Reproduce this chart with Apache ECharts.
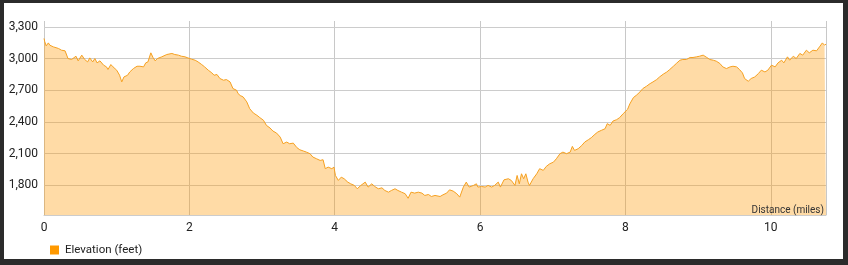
<!DOCTYPE html>
<html>
<head>
<meta charset="utf-8">
<script src="https://cdn.jsdelivr.net/npm/echarts@6/dist/echarts.min.js"></script>
<style>
  html, body { margin: 0; padding: 0; background: #2b2b2b; width: 848px; height: 265px; overflow: hidden; }
  #panel { position: absolute; left: 4px; top: 3px; width: 839px; height: 256px; background: #ffffff; }
  #chart { position: absolute; left: 0; top: 0; width: 848px; height: 265px; }
</style>
</head>
<body>
<div id="panel"></div>
<div id="chart"></div>
<script>
// Distance along the trail (miles)
const distance = [
  0.00, 0.01, 0.03, 0.06, 0.08, 0.13, 0.20, 0.24, 0.29, 0.31, 0.33, 0.38, 0.40, 0.44, 0.47, 0.52,
  0.56, 0.60, 0.63, 0.67, 0.70, 0.73, 0.77, 0.82, 0.86, 0.88, 0.92, 0.95, 1.00, 1.04, 1.07, 1.10,
  1.15, 1.18, 1.23, 1.28, 1.32, 1.37, 1.40, 1.43, 1.47, 1.50, 1.53, 1.56, 1.62, 1.69, 1.76, 1.80,
  1.85, 1.89, 1.94, 1.98, 2.03, 2.08, 2.12, 2.17, 2.21, 2.26, 2.31, 2.34, 2.38, 2.42, 2.47, 2.51,
  2.56, 2.60, 2.65, 2.67, 2.70, 2.74, 2.79, 2.83, 2.88, 2.93, 2.97, 3.02, 3.06, 3.11, 3.15, 3.20,
  3.25, 3.29, 3.34, 3.38, 3.43, 3.48, 3.52, 3.57, 3.61, 3.66, 3.70, 3.75, 3.80, 3.84, 3.87, 3.91,
  3.96, 3.99, 4.01, 4.05, 4.09, 4.13, 4.18, 4.22, 4.27, 4.31, 4.36, 4.42, 4.46, 4.51, 4.55, 4.60,
  4.65, 4.69, 4.74, 4.78, 4.83, 4.87, 4.92, 4.97, 5.01, 5.05, 5.10, 5.15, 5.20, 5.24, 5.29, 5.33,
  5.38, 5.40, 5.45, 5.49, 5.54, 5.58, 5.63, 5.68, 5.72, 5.77, 5.81, 5.85, 5.91, 5.95, 5.97, 6.02,
  6.07, 6.11, 6.16, 6.20, 6.25, 6.28, 6.33, 6.39, 6.43, 6.48, 6.51, 6.54, 6.57, 6.60, 6.63, 6.66,
  6.68, 6.73, 6.78, 6.82, 6.87, 6.91, 6.96, 7.01, 7.05, 7.10, 7.14, 7.19, 7.24, 7.27, 7.30, 7.35,
  7.40, 7.44, 7.49, 7.53, 7.58, 7.62, 7.67, 7.72, 7.75, 7.79, 7.83, 7.88, 7.92, 7.97, 8.03, 8.06,
  8.11, 8.15, 8.20, 8.24, 8.29, 8.34, 8.38, 8.43, 8.47, 8.52, 8.57, 8.61, 8.66, 8.70, 8.75, 8.79,
  8.84, 8.89, 8.93, 8.98, 9.02, 9.07, 9.12, 9.16, 9.21, 9.25, 9.30, 9.34, 9.39, 9.44, 9.48, 9.53,
  9.57, 9.61, 9.64, 9.69, 9.73, 9.78, 9.83, 9.87, 9.92, 9.96, 10.01, 10.06, 10.10, 10.15, 10.18, 10.23,
  10.26, 10.31, 10.35, 10.40, 10.44, 10.49, 10.53, 10.58, 10.63, 10.67, 10.71, 10.74, 10.76
];
// Elevation (feet)
const elevation = [
  3190, 3160, 3120, 3148, 3126, 3110, 3095, 3079, 3073, 3063, 3000, 2991, 2978, 3022, 2978, 3032,
  2991, 2968, 3006, 2968, 3000, 2959, 2978, 2937, 2921, 2896, 2943, 2921, 2890, 2842, 2779, 2826,
  2842, 2873, 2905, 2927, 2927, 2921, 2959, 2968, 3054, 3010, 2978, 3000, 3016, 3038, 3048, 3038,
  3032, 3022, 3016, 3006, 2994, 2984, 2968, 2943, 2921, 2890, 2864, 2842, 2849, 2811, 2795, 2801,
  2779, 2716, 2700, 2669, 2650, 2637, 2590, 2526, 2485, 2463, 2441, 2416, 2368, 2343, 2314, 2295,
  2257, 2194, 2210, 2194, 2200, 2157, 2137, 2125, 2115, 2100, 2068, 2052, 2036, 2043, 1958, 1973,
  1958, 1973, 1894, 1847, 1878, 1863, 1831, 1815, 1800, 1768, 1800, 1831, 1784, 1815, 1790, 1768,
  1777, 1752, 1736, 1752, 1768, 1752, 1736, 1721, 1678, 1736, 1727, 1736, 1727, 1705, 1714, 1695,
  1705, 1705, 1695, 1711, 1727, 1758, 1746, 1721, 1689, 1784, 1831, 1784, 1800, 1815, 1784, 1790,
  1784, 1800, 1784, 1800, 1831, 1784, 1853, 1863, 1847, 1800, 1894, 1815, 1910, 1863, 1910, 1831,
  1800, 1863, 1910, 1958, 1942, 1979, 2005, 2020, 2052, 2100, 2115, 2100, 2115, 2169, 2131, 2147,
  2178, 2210, 2232, 2251, 2283, 2305, 2321, 2336, 2384, 2368, 2409, 2422, 2441, 2479, 2520, 2570,
  2631, 2652, 2684, 2716, 2738, 2763, 2779, 2801, 2826, 2852, 2873, 2896, 2927, 2953, 2984, 2991,
  2991, 3010, 3010, 3016, 3022, 3032, 3010, 2991, 2984, 2975, 2953, 2921, 2905, 2921, 2927, 2921,
  2896, 2864, 2811, 2785, 2811, 2826, 2858, 2890, 2873, 2890, 2937, 2921, 2959, 2984, 2959, 3016,
  2984, 3022, 3000, 3048, 3032, 3079, 3054, 3079, 3073, 3110, 3148, 3126, 3136
];
// Tick labels
const yTicks = [1800, 2100, 2400, 2700, 3000, 3300];
const xTicks = [0, 2, 4, 6, 8, 10];
const seriesName = 'Elevation (feet)';
const xTitle = 'Distance (miles)';

const pairs = distance.map((d, i) => [d, elevation[i]]);
const FONT = 'Roboto, "Noto Sans", sans-serif';

const chart = echarts.init(document.getElementById('chart'), null, { renderer: 'canvas' });
chart.setOption({
  animation: false,
  backgroundColor: 'transparent',
  grid: { left: 44, right: 22, top: 21, bottom: 50, containLabel: false },
  legend: {
    data: [seriesName],
    left: 50, top: 244, padding: 0,
    itemWidth: 9, itemHeight: 9, icon: 'rect',
    textStyle: { fontFamily: FONT, fontSize: 11.5, color: '#222', padding: [0, 0, 0, 1] }
  },
  xAxis: {
    type: 'value', min: 0, max: 10.76, interval: 2,
    axisLine: { show: true, lineStyle: { color: '#cccccc', width: 1 } },
    axisTick: { show: false },
    splitLine: { show: true, lineStyle: { color: '#c8c8c8', width: 1 } },
    axisLabel: {
      fontFamily: FONT, fontSize: 12, color: '#222', margin: 7,
      showMaxLabel: false,
      formatter: v => (xTicks.indexOf(v) >= 0 ? String(v) : '')
    }
  },
  yAxis: {
    type: 'value', min: 1520, max: 3355,
    axisLine: { show: false },
    axisTick: { show: false },
    splitLine: { show: false },
    axisLabel: {
      customValues: yTicks,
      fontFamily: FONT, fontSize: 12, color: '#222', margin: 6,
      formatter: v => v.toLocaleString('en-US')
    }
  },
  graphic: [{
    type: 'text', right: 24, top: 205, z: 10,
    style: { text: xTitle, fontFamily: FONT, fontSize: 10, fill: '#333' }
  }],
  series: [
    {
      name: 'grid', type: 'line', data: [], z: 1, silent: true,
      markLine: {
        z: 1, silent: true, symbol: ['none', 'none'], label: { show: false },
        lineStyle: { color: '#cccccc', type: 'solid', width: 1 },
        data: yTicks.map(v => ({ yAxis: v }))
      }
    },
    {
      name: seriesName, type: 'line', data: pairs, z: 2,
      showSymbol: false, symbol: 'none',
      itemStyle: { color: '#ff9900' },
      lineStyle: { color: '#f5a020', width: 1 },
      areaStyle: { color: '#ff9900', opacity: 0.35 }
    }
  ]
});
</script>
</body>
</html>
